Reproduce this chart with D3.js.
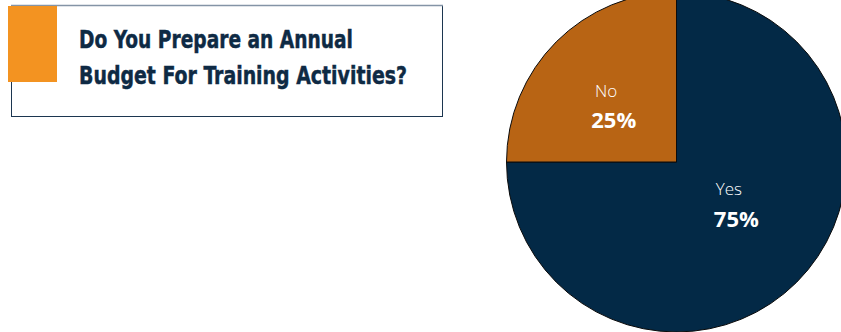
<!DOCTYPE html>
<html>
<head>
<meta charset="utf-8">
<script src="https://cdn.jsdelivr.net/npm/d3@7/dist/d3.min.js"></script>
<style>
  html, body { margin: 0; padding: 0; background: #ffffff; }
  svg { display: block; }
</style>
</head>
<body>
<svg id="chart" width="841" height="332"></svg>
<script>
// Survey answers and their shares
const categories = ["Yes", "No"];
const shares = [75, 25];
const sliceColors = ["#032946", "#b86414"];
const titleLines = ["Do You Prepare an Annual", "Budget For Training Activities?"];

// Label nudges from each slice centroid (layout only)
const labelNudge = [[1, -6], [-11, 6]];

const svg = d3.select("#chart");

// Title card
svg.append("rect")
  .attr("x", 11.5).attr("y", 5.5)
  .attr("width", 431).attr("height", 111)
  .attr("fill", "#ffffff")
  .attr("stroke", "#1c3650").attr("stroke-width", 1);
svg.append("line")
  .attr("x1", 11).attr("x2", 443).attr("y1", 5.5).attr("y2", 5.5)
  .attr("stroke", "#8494a6").attr("stroke-width", 1.5);
svg.append("rect")
  .attr("x", 8).attr("y", 6)
  .attr("width", 49).attr("height", 76)
  .attr("fill", "#f39321");

const title = svg.append("g")
  .attr("font-family", "'Liberation Sans Narrow', 'DejaVu Sans Condensed', sans-serif")
  .attr("font-weight", "bold")
  .attr("font-size", 24.5)
  .attr("fill", "#0e2a44")
  .attr("stroke", "#0e2a44")
  .attr("stroke-width", 0.45);
const lineWidths = [274, 328];
titleLines.forEach((t, i) => {
  title.append("text")
    .attr("x", 79).attr("y", 48 + i * 35.5)
    .attr("textLength", lineWidths[i])
    .attr("lengthAdjust", "spacingAndGlyphs")
    .text(t);
});

// Pie
const cx = 676.5, cy = 162, r = 170;
const data = categories.map((c, i) => ({ name: c, value: shares[i], color: sliceColors[i], nudge: labelNudge[i] }));
const pie = d3.pie().sort(null).value(d => d.value);
const arc = d3.arc().innerRadius(0).outerRadius(r);
const labelArc = d3.arc().innerRadius(r * 0.46).outerRadius(r * 0.46);

const g = svg.append("g").attr("transform", `translate(${cx},${cy})`);
const arcs = pie(data);

g.selectAll("path.slice")
  .data(arcs)
  .join("path")
  .attr("class", "slice")
  .attr("d", arc)
  .attr("fill", d => d.data.color)
  .attr("stroke", "#0b0b0b")
  .attr("stroke-width", 1);

const labels = g.selectAll("g.label")
  .data(arcs)
  .join("g")
  .attr("class", "label")
  .attr("transform", d => {
    const [x, y] = labelArc.centroid(d);
    return `translate(${x + d.data.nudge[0]},${y + d.data.nudge[1]})`;
  })
  .attr("font-family", "'Open Sans', 'Noto Sans', sans-serif")
  .attr("fill", "#ffffff")
  .attr("text-anchor", "middle");

labels.append("text")
  .attr("x", -4)
  .attr("y", -16)
  .attr("font-size", 17)
  .attr("font-weight", 300)
  .text(d => d.data.name);

labels.append("text")
  .attr("x", 3.5)
  .attr("y", 15.5)
  .attr("font-size", 22)
  .attr("font-weight", "bold")
  .text(d => d.data.value + "%");
</script>
</body>
</html>
